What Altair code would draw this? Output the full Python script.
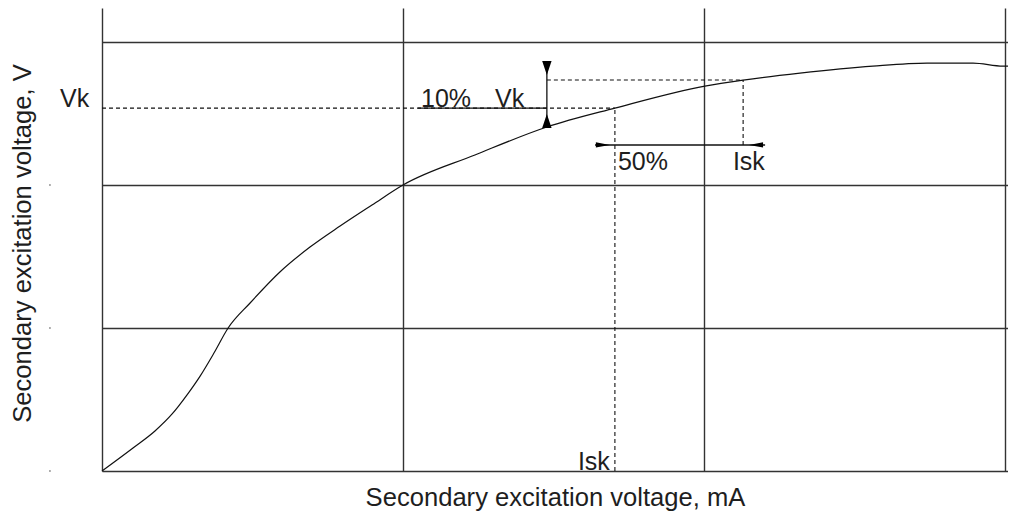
import altair as alt
import pandas as pd

# ---- data ----
curve_x = [0.0, 0.103, 0.176, 0.233, 0.282, 0.326, 0.372, 0.419, 0.492, 0.591,
           0.691, 0.791, 0.897, 1.0, 1.239, 1.478, 1.704, 2.003, 2.130, 2.319,
           2.561, 2.741, 2.894, 2.993, 3.010]
curve_y = [0.0, 0.161, 0.280, 0.399, 0.531, 0.664, 0.825, 1.0, 1.175, 1.392,
           1.566, 1.713, 1.860, 2.0, 2.210, 2.406, 2.538, 2.692, 2.734, 2.783,
           2.832, 2.853, 2.853, 2.832, 2.832]

grid_values = [0, 1, 2, 3]

# key points of the construction
vk_x, vk_y = 1.704, 2.538          # Vk / Isk point
up_x, up_y = 2.130, 2.734          # point 10% above
arrow_v_x = 1.478
arrow_v_top, arrow_v_bot = 2.860, 2.406
dim_y, dim_left, dim_right = 2.280, 1.638, 2.203
text_line_left = 1.050

dashed_x1 = [0.0, vk_x, arrow_v_x, up_x]
dashed_y1 = [vk_y, 0.0, up_y, dim_y]
dashed_x2 = [vk_x, vk_x, up_x, up_x]
dashed_y2 = [vk_y, vk_y, up_y, up_y]

solid_x1 = [text_line_left, arrow_v_x, dim_left]
solid_y1 = [vk_y, arrow_v_bot, dim_y]
solid_x2 = [arrow_v_x, arrow_v_x, dim_right]
solid_y2 = [vk_y, arrow_v_top, dim_y]

head_x = [arrow_v_x, arrow_v_x, 1.664, 2.173]
head_y = [2.818, 2.448, dim_y, dim_y]
head_shape = ["M-0.67,-1L0.67,-1L0,1Z", "M-0.67,1L0.67,1L0,-1Z",
              "M-1,-0.375L-1,0.375L1,0Z", "M1,-0.375L1,0.375L-1,0Z"]

label_text = ["Vk", "10%", "Vk", "50%", "Isk", "Isk"]
label_x = [-0.1395, 1.060, 1.306, 1.714, 2.096, 1.581]
label_y = [vk_y, vk_y, vk_y, 2.098, 2.098, 0.0]

dot_x = [-0.173, -0.173, -0.173]
dot_y = [0, 1, 2]

X_DOMAIN = [0, 3.010]
Y_DOMAIN = [0, 3.238]
FONT = "Liberation Sans"
INK = "#1e1e1e"

xs = alt.Scale(domain=X_DOMAIN, nice=False, zero=False)
ys = alt.Scale(domain=Y_DOMAIN, nice=False, zero=False)

curve_df = pd.DataFrame({"x": curve_x, "y": curve_y})
dashed_df = pd.DataFrame({"x": dashed_x1, "y": dashed_y1, "x2": dashed_x2, "y2": dashed_y2})
solid_df = pd.DataFrame({"x": solid_x1, "y": solid_y1, "x2": solid_x2, "y2": solid_y2})
head_df = pd.DataFrame({"x": head_x, "y": head_y, "shape": head_shape})
label_df = pd.DataFrame({"x": label_x, "y": label_y, "text": label_text})
dot_df = pd.DataFrame({"x": dot_x, "y": dot_y})

x_axis = alt.Axis(values=grid_values, grid=True, gridColor="#333333", gridWidth=1.4,
                  gridOpacity=1, domain=False, ticks=False, labels=False,
                  title="Secondary excitation voltage, mA", titleFont=FONT,
                  titleFontSize=25.6, titleFontWeight="normal", titleColor=INK,
                  titleBaseline="alphabetic", titleY=34, titleX=453, titleAlign="center")
y_axis = alt.Axis(values=grid_values, grid=True, gridColor="#333333", gridWidth=1.4,
                  gridOpacity=1, domain=False, ticks=False, labels=False,
                  title="Secondary excitation voltage, V", titleFont=FONT,
                  titleFontSize=25.6, titleFontWeight="normal", titleColor=INK,
                  titleAngle=270, titleBaseline="alphabetic", titleX=-72, titleY=235,
                  titleAlign="center")

curve = alt.Chart(curve_df).mark_line(color="#111111", strokeWidth=1.2, interpolate="monotone").encode(
    x=alt.X("x:Q", scale=xs, axis=x_axis),
    y=alt.Y("y:Q", scale=ys, axis=y_axis),
)

dashed = alt.Chart(dashed_df).mark_rule(color="#111111", strokeWidth=1.1, strokeDash=[4, 3]).encode(
    x=alt.X("x:Q", scale=xs), y=alt.Y("y:Q", scale=ys), x2="x2:Q", y2="y2:Q"
)

solid = alt.Chart(solid_df).mark_rule(color="#111111", strokeWidth=1.3).encode(
    x=alt.X("x:Q", scale=xs), y=alt.Y("y:Q", scale=ys), x2="x2:Q", y2="y2:Q"
)

heads = alt.Chart(head_df).mark_point(filled=True, color="#000000", opacity=1).encode(
    x=alt.X("x:Q", scale=xs), y=alt.Y("y:Q", scale=ys),
    shape=alt.Shape("shape:N", scale=None, legend=None),
    size=alt.value(196),
)

labels = alt.Chart(label_df).mark_text(align="left", baseline="alphabetic", font=FONT,
                                       fontSize=25, color=INK, dy=-1).encode(
    x=alt.X("x:Q", scale=xs), y=alt.Y("y:Q", scale=ys), text="text:N"
)

dots = alt.Chart(dot_df).mark_point(filled=True, color="#999999", size=4, opacity=1).encode(
    x=alt.X("x:Q", scale=xs), y=alt.Y("y:Q", scale=ys)
)

chart = alt.layer(curve, dashed, solid, heads, labels, dots).properties(
    width=906, height=463,
    autosize=alt.AutoSizeParams(type="none"),
    padding={"left": 94, "top": 0, "right": 0, "bottom": 41},
    background="white",
).configure_view(stroke="transparent")

chart.save("out.html", embed_options={"renderer": "svg", "actions": False})
